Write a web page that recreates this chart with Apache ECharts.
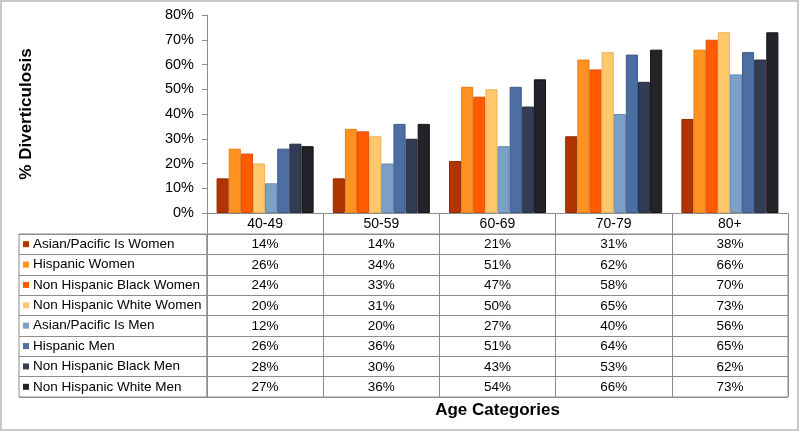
<!DOCTYPE html>
<html>
<head>
<meta charset="utf-8">
<script src="https://cdn.jsdelivr.net/npm/echarts@6/dist/echarts.min.js"></script>
<style>
html,body{margin:0;padding:0;background:#fff;}
#chart{width:800px;height:432px;}
</style>
</head>
<body>
<div id="chart"></div>
<script>
// ---- data ----
var categories = ['40-49', '50-59', '60-69', '70-79', '80+'];
var seriesNames = [
  'Asian/Pacific Is Women',
  'Hispanic Women',
  'Non Hispanic Black Women',
  'Non Hispanic White Women',
  'Asian/Pacific Is Men',
  'Hispanic Men',
  'Non Hispanic Black Men',
  'Non Hispanic White Men'
];
var asianWomen      = [14, 14, 21, 31, 38];
var hispanicWomen   = [26, 34, 51, 62, 66];
var nhBlackWomen    = [24, 33, 47, 58, 70];
var nhWhiteWomen    = [20, 31, 50, 65, 73];
var asianMen        = [12, 20, 27, 40, 56];
var hispanicMen     = [26, 36, 51, 64, 65];
var nhBlackMen      = [28, 30, 43, 53, 62];
var nhWhiteMen      = [27, 36, 54, 66, 73];
var yTicks = [0, 10, 20, 30, 40, 50, 60, 70, 80];

var seriesValues = [asianWomen, hispanicWomen, nhBlackWomen, nhWhiteWomen,
                    asianMen, hispanicMen, nhBlackMen, nhWhiteMen];

// ---- styles ----
var colors = ['#B23400', '#FF9222', '#FF5B00', '#FFC86C', '#7DA0C8', '#4C6EA3', '#323D55', '#232329'];
var borders = ['#8E2A00', '#E57E14', '#E04C00', '#EDB055', '#6689B2', '#3B5B8E', '#252E42', '#111111'];
var FONT = 'Arial, "Liberation Sans", sans-serif';
var LINE = '#8c8c8c';

var chart = echarts.init(document.getElementById('chart'), null, {renderer: 'canvas'});

var series = seriesNames.map(function (name, i) {
  return {
    name: name,
    type: 'bar',
    xAxisIndex: 0,
    yAxisIndex: 0,
    barGap: '0%',
    barCategoryGap: '16.5%',
    itemStyle: {color: colors[i], borderColor: borders[i], borderWidth: 1},
    data: seriesValues[i]
  };
});

// table values
var cellData = [];
seriesValues.forEach(function (vals, si) {
  vals.forEach(function (v, ci) { cellData.push([ci, si, v]); });
});
series.push({
  type: 'custom',
  xAxisIndex: 1,
  yAxisIndex: 1,
  silent: true,
  clip: false,
  data: cellData,
  renderItem: function (params, api) {
    var p = api.coord([api.value(0), api.value(1)]);
    return {
      type: 'text',
      x: p[0],
      y: p[1] + 0.5,
      style: {
        text: api.value(2) + '%',
        align: 'center',
        verticalAlign: 'middle',
        fontSize: 13.5,
        fontFamily: FONT,
        fill: '#000'
      }
    };
  }
});

var rich = {t: {fontSize: 13.5, fontFamily: FONT, color: '#000', padding: [0, 0, 0, 4]}};
colors.forEach(function (c, i) {
  rich['m' + i] = {backgroundColor: c, width: 6, height: 6};
});

var option = {
  backgroundColor: '#fff',
  animation: false,
  textStyle: {fontFamily: FONT},
  grid: [
    {left: 207, top: 15, width: 581, height: 198},
    {left: 207, top: 234, width: 581, height: 163, show: true, borderColor: LINE, borderWidth: 1},
    {left: 19, top: 234, width: 188, height: 163, show: true, borderColor: LINE, borderWidth: 1}
  ],
  xAxis: [
    {
      gridIndex: 0, type: 'category', data: categories,
      axisLine: {show: true, lineStyle: {color: LINE, width: 1}},
      axisTick: {show: true, interval: 0, length: 21, lineStyle: {color: LINE}},
      axisLabel: {interval: 0, fontSize: 14, color: '#000', fontFamily: FONT, margin: 11, verticalAlign: 'middle'}
    },
    {
      gridIndex: 1, type: 'category', data: categories,
      axisLine: {show: false}, axisTick: {show: false}, axisLabel: {show: false},
      splitLine: {show: true, interval: 0, lineStyle: {color: LINE, width: 1}},
      name: 'Age Categories', nameLocation: 'middle', nameGap: 5,
      nameTextStyle: {fontSize: 17, fontWeight: 'bold', color: '#000', fontFamily: FONT}
    },
    {gridIndex: 2, type: 'value', show: false, min: 0, max: 1}
  ],
  yAxis: [
    {
      gridIndex: 0, type: 'value', min: 0, max: 80, interval: 10,
      axisLine: {show: true, lineStyle: {color: LINE, width: 1}},
      axisTick: {show: true, length: 5, lineStyle: {color: LINE}},
      splitLine: {show: false},
      axisLabel: {formatter: '{value}%', fontSize: 14.5, color: '#000', fontFamily: FONT, margin: 13},
      name: '% Diverticulosis', nameLocation: 'middle', nameGap: 172,
      nameTextStyle: {fontSize: 17, fontWeight: 'bold', color: '#000', fontFamily: FONT}
    },
    {
      gridIndex: 1, type: 'category', data: seriesNames, inverse: true,
      axisLine: {show: false}, axisTick: {show: false}, axisLabel: {show: false},
      splitLine: {show: true, interval: 0, lineStyle: {color: LINE, width: 1}}
    },
    {
      gridIndex: 2, type: 'category', data: seriesNames, inverse: true,
      axisLine: {show: false}, axisTick: {show: false},
      splitLine: {show: true, interval: 0, lineStyle: {color: LINE, width: 1}},
      axisLabel: {
        inside: true, margin: 4, interval: 0,
        formatter: function (v, i) { return '{m' + i + '|}{t|' + v + '}'; },
        rich: rich
      }
    }
  ],
  graphic: [
    {type: 'rect', silent: true, z: 100,
     shape: {x: 1, y: 1, width: 797, height: 429},
     style: {fill: 'none', stroke: '#c8c8c8', lineWidth: 2}}
  ],
  series: series
};
chart.setOption(option);
</script>
</body>
</html>
